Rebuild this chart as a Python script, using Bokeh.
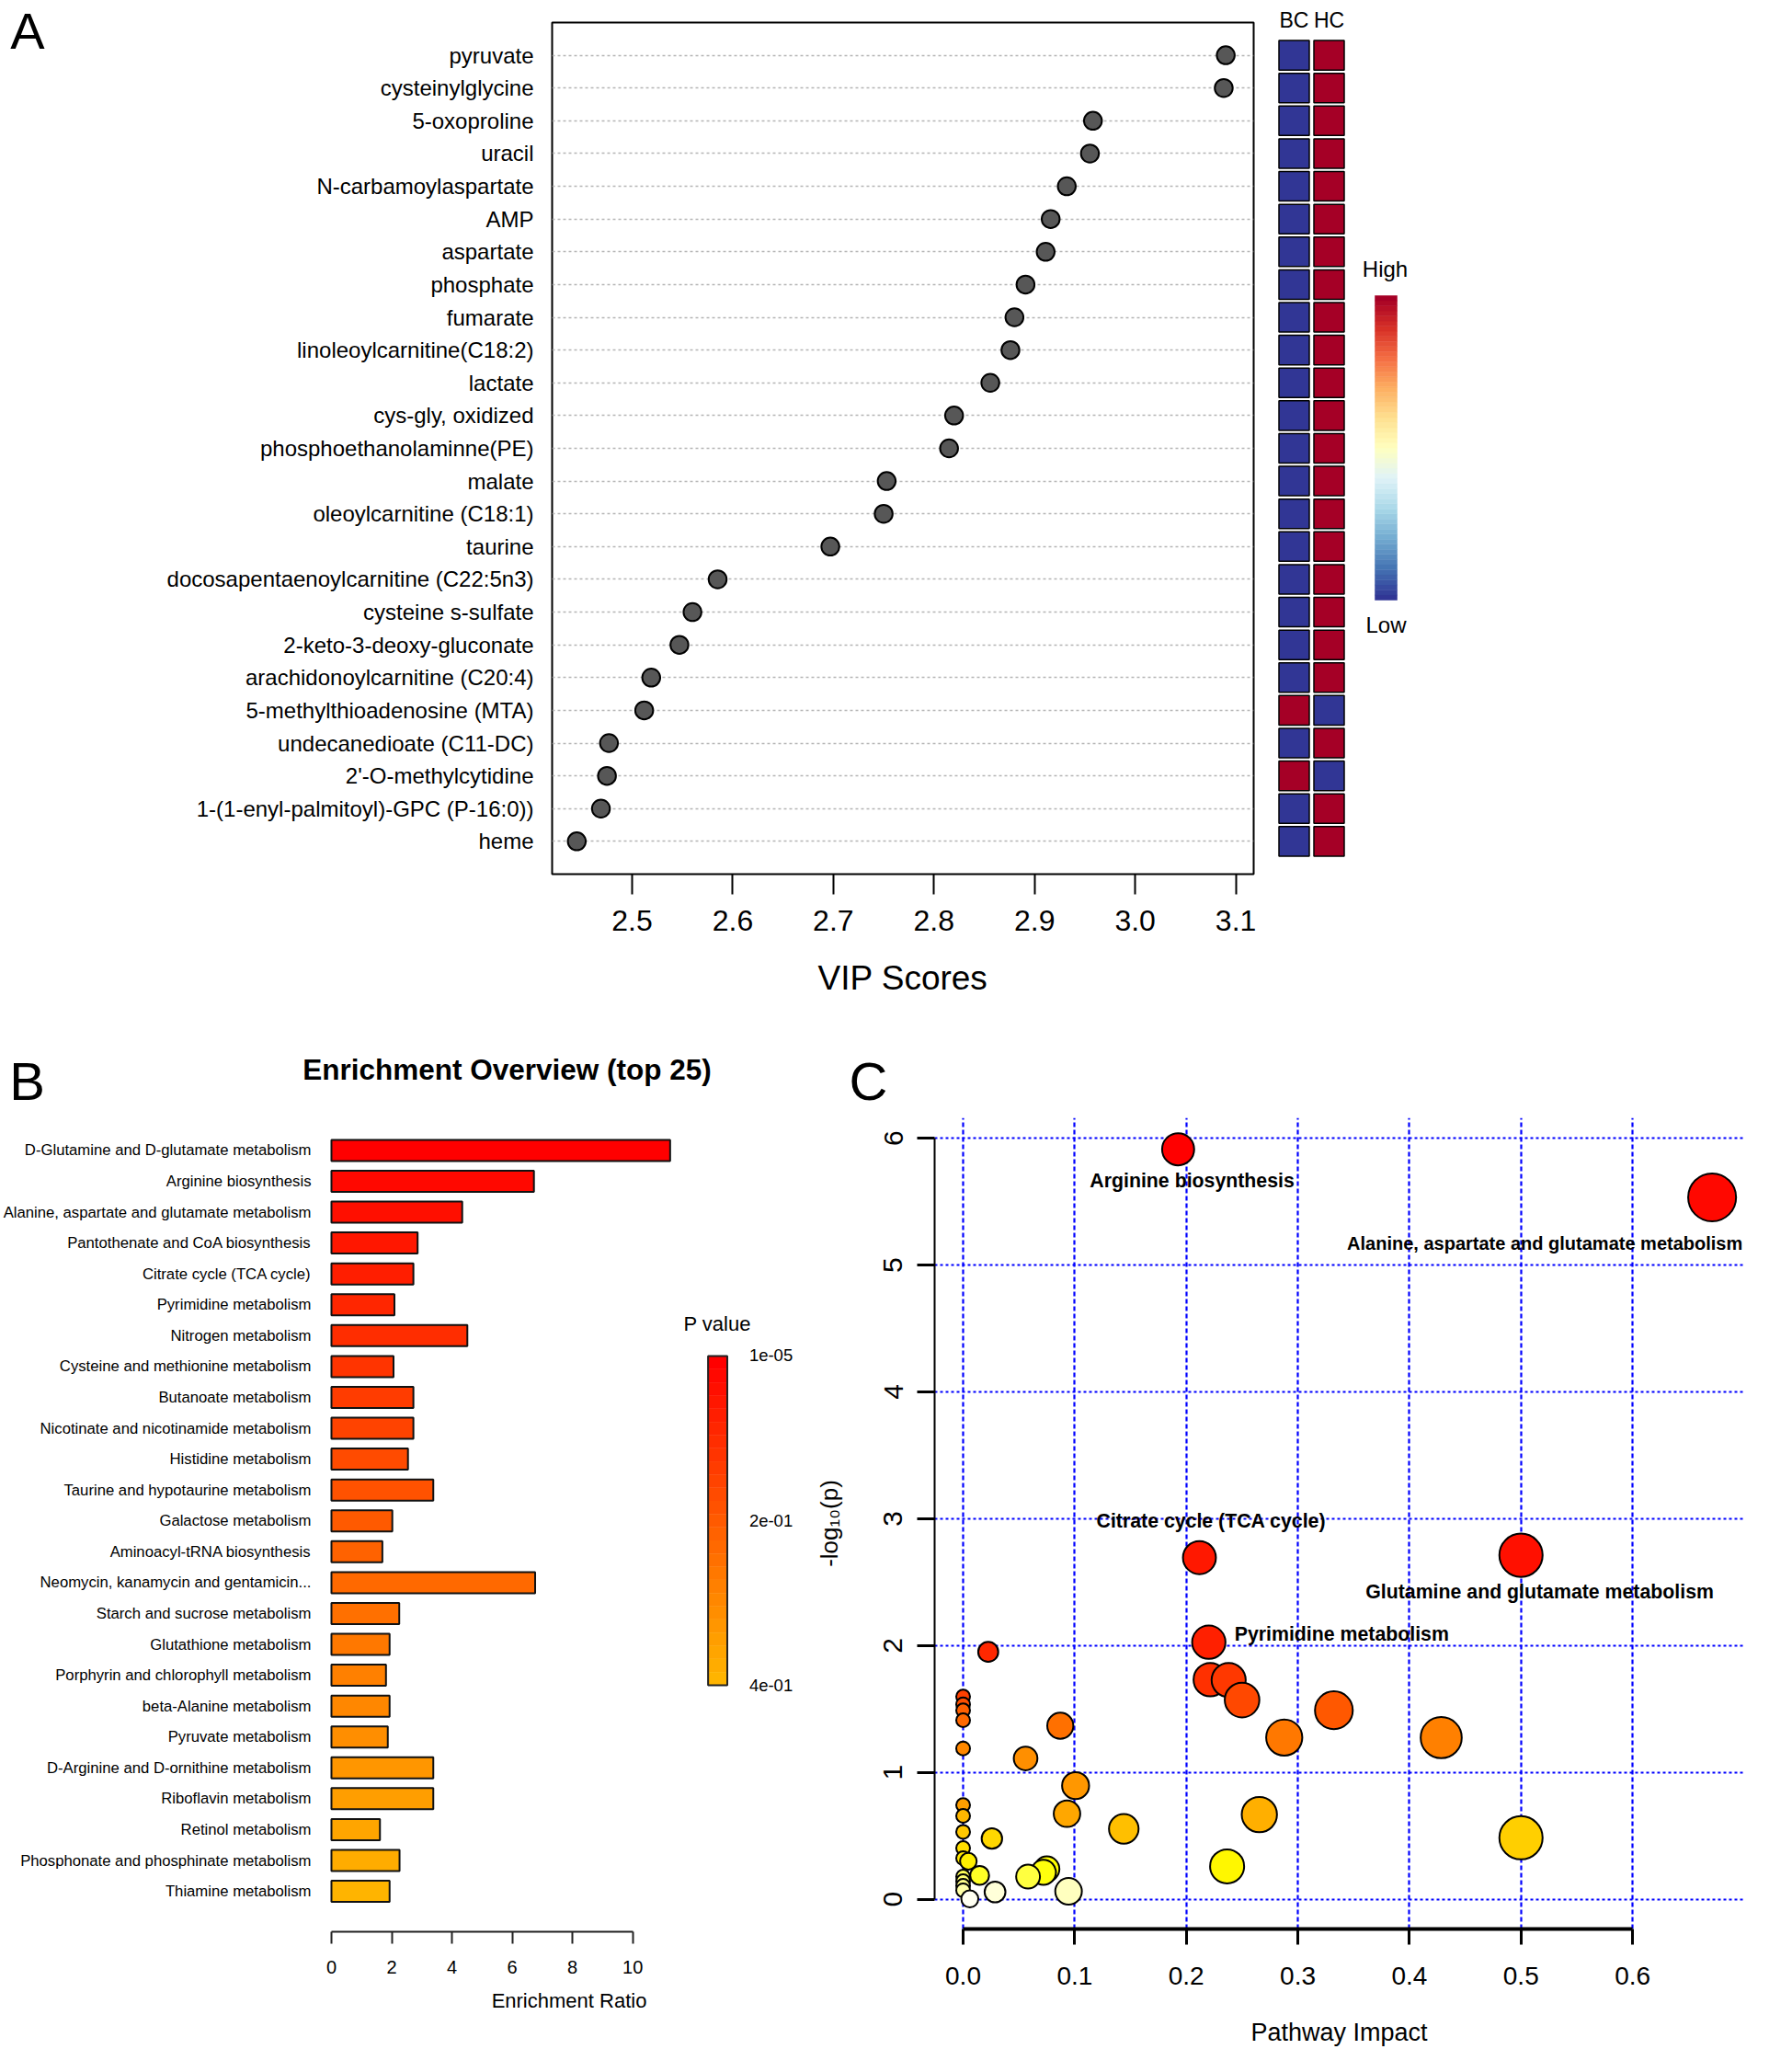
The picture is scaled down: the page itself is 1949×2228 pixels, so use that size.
import colorsys
import numpy as np
from bokeh.plotting import figure
from bokeh.layouts import column, row
from bokeh.models import Range1d, FixedTicker, Label, PrintfTickFormatter
from bokeh.embed import file_html
from bokeh.resources import INLINE

FONT = "Liberation Sans"

# ---------------- Panel A data ----------------
metabolites = [
    "pyruvate", "cysteinylglycine", "5-oxoproline", "uracil", "N-carbamoylaspartate",
    "AMP", "aspartate", "phosphate", "fumarate", "linoleoylcarnitine(C18:2)",
    "lactate", "cys-gly, oxidized", "phosphoethanolaminne(PE)", "malate",
    "oleoylcarnitine (C18:1)", "taurine", "docosapentaenoylcarnitine (C22:5n3)",
    "cysteine s-sulfate", "2-keto-3-deoxy-gluconate", "arachidonoylcarnitine (C20:4)",
    "5-methylthioadenosine (MTA)", "undecanedioate (C11-DC)", "2'-O-methylcytidine",
    "1-(1-enyl-palmitoyl)-GPC (P-16:0))", "heme",
]
vip_scores = [3.090, 3.088, 2.958, 2.955, 2.932, 2.916, 2.911, 2.891, 2.880, 2.876,
              2.856, 2.820, 2.815, 2.753, 2.750, 2.697, 2.585, 2.560, 2.547, 2.519,
              2.512, 2.477, 2.475, 2.469, 2.445]
groups = ["BC", "HC"]
bc_level = [0] * 20 + [1, 0, 1, 0, 0]   # 1 = high, 0 = low
hc_level = [1] * 20 + [0, 1, 0, 1, 1]
vip_ticks = [2.5, 2.6, 2.7, 2.8, 2.9, 3.0, 3.1]

# ---------------- Panel B data ----------------
pathways_b = [
    "D-Glutamine and D-glutamate metabolism", "Arginine biosynthesis",
    "Alanine, aspartate and glutamate metabolism", "Pantothenate and CoA biosynthesis",
    "Citrate cycle (TCA cycle)", "Pyrimidine metabolism", "Nitrogen metabolism",
    "Cysteine and methionine metabolism", "Butanoate metabolism",
    "Nicotinate and nicotinamide metabolism", "Histidine metabolism",
    "Taurine and hypotaurine metabolism", "Galactose metabolism",
    "Aminoacyl-tRNA biosynthesis", "Neomycin, kanamycin and gentamicin...",
    "Starch and sucrose metabolism", "Glutathione metabolism",
    "Porphyrin and chlorophyll metabolism", "beta-Alanine metabolism",
    "Pyruvate metabolism", "D-Arginine and D-ornithine metabolism",
    "Riboflavin metabolism", "Retinol metabolism",
    "Phosphonate and phosphinate metabolism", "Thiamine metabolism",
]
enrichment_ratio = [11.24, 6.72, 4.34, 2.86, 2.72, 2.09, 4.51, 2.06, 2.72, 2.72,
                    2.54, 3.38, 2.02, 1.69, 6.76, 2.25, 1.93, 1.81, 1.93, 1.87,
                    3.38, 3.38, 1.61, 2.26, 1.93]
ratio_ticks = [0, 2, 4, 6, 8, 10]
pvalue_labels = ["1e-05", "2e-01", "4e-01"]

# ---------------- Panel C data ----------------
impact = [0.1927, 0.6713, 0.5000, 0.2118, 0.2202, 0.0225, 0.2215, 0.2380, 0.0000, 0.2500,
          0.0000, 0.3323, 0.0000, 0.0000, 0.0871, 0.2878, 0.4285, 0.0000, 0.0560, 0.1008,
          0.0000, 0.0931, 0.2655, 0.0000, 0.1440, 0.0000, 0.5000, 0.0258, 0.0000, 0.0000,
          0.0047, 0.2366, 0.0750, 0.0720, 0.0148, 0.0582, 0.0000, 0.0000, 0.0000, 0.0000,
          0.0945, 0.0286, 0.0060]
neglogp = [5.913, 5.534, 2.712, 2.693, 2.026, 1.950, 1.731, 1.728, 1.597, 1.570,
           1.537, 1.490, 1.489, 1.411, 1.368, 1.275, 1.274, 1.189, 1.110, 0.895,
           0.742, 0.674, 0.667, 0.657, 0.555, 0.531, 0.484, 0.478, 0.403, 0.323,
           0.299, 0.259, 0.238, 0.212, 0.188, 0.178, 0.178, 0.142, 0.106, 0.070,
           0.062, 0.057, 0.002]
c_label_index = [0, 1, 3, 2, 4]
c_label_text = ["Arginine biosynthesis", "Alanine, aspartate and glutamate metabolism",
                "Citrate cycle (TCA cycle)", "Glutamine and glutamate metabolism",
                "Pyrimidine metabolism"]
c_label_dx = [-96, -397, -112, -169, 28]
c_label_dy = [-34, -50, 40, -40, 9]
c_label_size = ["21.3px", "20px", "21.3px", "21.3px", "21.3px"]
impact_ticks = [0.0, 0.1, 0.2, 0.3, 0.4, 0.5, 0.6]
logp_ticks = [0, 1, 2, 3, 4, 5, 6]


def hsv_hex(h, s, v):
    r, g, b = colorsys.hsv_to_rgb(h, s, v)
    return "#%02x%02x%02x" % (round(r * 255), round(g * 255), round(b * 255))


def heat_colors(n):
    j = n // 4
    i = n - j
    cols = [hsv_hex((k / (i - 1)) / 6.0, 1, 1) for k in range(i)]
    if j > 0:
        for s in np.linspace(1 - 1 / (2 * j), 1 / (2 * j), j):
            cols.append(hsv_hex(1 / 6.0, s, 1))
    return cols


def interp_palette(stops, n):
    rgb = np.array([[int(c[i:i + 2], 16) for i in (1, 3, 5)] for c in stops], float)
    t = np.linspace(0, 1, n)
    pos = np.linspace(0, 1, len(stops))
    out = []
    for tt in t:
        vals = [np.interp(tt, pos, rgb[:, k]) for k in range(3)]
        out.append("#%02x%02x%02x" % tuple(int(round(v)) for v in vals))
    return out


RDYLBU = ["#313695", "#4575b4", "#74add1", "#abd9e9", "#e0f3f8", "#ffffbf",
          "#fee090", "#fdae61", "#f46d43", "#d73027", "#a50026"]


def base_fig(**kw):
    p = figure(output_backend="svg", toolbar_location=None, **kw)
    p.frame_align = False
    return p


def blank_fig(width, height, x0, x1, y_bottom, y_top):
    p = base_fig(width=width, height=height, x_range=Range1d(x0, x1),
                 y_range=Range1d(y_bottom, y_top), min_border=0,
                 x_axis_location=None, y_axis_location=None)
    p.outline_line_color = None
    p.grid.visible = False
    return p


def letter(p, x, y, txt, size="58px"):
    p.add_layout(Label(x=x, y=y, text=txt, text_font=FONT, text_font_size=size,
                       text_align="center", text_baseline="middle", text_color="black"))


# ======================= Panel A letter strip =======================
pLetA = blank_fig(178, 1100, 0, 178, 1100, 0)
letter(pLetA, 29.5, 33, "A", "56px")

# ======================= Panel A (dot plot) =======================
A_X0_PX, A_X0_VAL, A_PPU = 687.0, 2.5, 1094.3
A_ROW0_PX, A_ROW_PX = 59.6, 35.615


def ax_(px):
    return A_X0_VAL + (px - A_X0_PX) / A_PPU


def ay_(py):
    return (py - A_ROW0_PX) / A_ROW_PX


idx_a = list(range(len(metabolites)))
pA = base_fig(width=1202, height=1100, x_range=Range1d(ax_(600), ax_(1363)),
              y_range=Range1d(ay_(950), ay_(24)), min_border_left=422,
              min_border_right=17, min_border_top=24, min_border_bottom=150)
pA.outline_line_color = "black"
pA.outline_line_width = 2
pA.xgrid.visible = False
pA.ygrid.grid_line_color = "#b5b5b5"
pA.ygrid.grid_line_dash = "3 3"
pA.ygrid.grid_line_width = 1.5

pA.yaxis.ticker = FixedTicker(ticks=idx_a)
pA.yaxis.major_label_overrides = {i: m for i, m in enumerate(metabolites)}
pA.yaxis.axis_line_color = None
pA.yaxis.major_tick_line_color = None
pA.yaxis.minor_tick_line_color = None
pA.yaxis.major_label_standoff = 14
pA.yaxis.major_label_text_font = FONT
pA.yaxis.major_label_text_font_size = "24px"
pA.yaxis.major_label_text_color = "black"

pA.xaxis.ticker = FixedTicker(ticks=vip_ticks)
pA.xaxis.formatter = PrintfTickFormatter(format="%.1f")
pA.xaxis.axis_line_color = None
pA.xaxis.major_tick_out = 22
pA.xaxis.major_tick_in = 0
pA.xaxis.major_tick_line_width = 2
pA.xaxis.major_tick_line_color = "black"
pA.xaxis.minor_tick_line_color = None
pA.xaxis.major_label_standoff = 17
pA.xaxis.major_label_text_font = FONT
pA.xaxis.major_label_text_font_size = "32px"
pA.xaxis.major_label_text_color = "black"
pA.xaxis.axis_label = "VIP Scores"
pA.xaxis.axis_label_text_font = FONT
pA.xaxis.axis_label_text_font_size = "37px"
pA.xaxis.axis_label_text_font_style = "normal"
pA.xaxis.axis_label_text_color = "black"
pA.xaxis.axis_label_standoff = 28

pA.scatter(x=vip_scores, y=idx_a, size=19.5, fill_color="#575757",
           line_color="black", line_width=2)

# ======================= Panel A (heat columns) =======================
H_X0_PX, H_SLOT = 1388.0, 38.0


def hx_(px):
    return (px - H_X0_PX) / H_SLOT


pH = base_fig(width=569, height=1100, x_range=Range1d(0, hx_(1949)),
              y_range=Range1d(ay_(950), ay_(0)), min_border_left=8,
              min_border_right=0, min_border_top=0, min_border_bottom=150,
              x_axis_location=None, y_axis_location=None)
pH.outline_line_color = None
pH.grid.visible = False
level_color = {0: "#313695", 1: "#a50026"}
for gi, levels in enumerate([bc_level, hc_level]):
    pH.rect(x=[gi + 0.5] * len(levels), y=idx_a, width=33 / H_SLOT, height=0.9,
            fill_color=[level_color[v] for v in levels], line_color="black",
            line_width=1.5)
for gi, g in enumerate(groups):
    pH.add_layout(Label(x=gi + 0.5, y=ay_(21), text=g, text_font=FONT,
                        text_font_size="23px", text_align="center",
                        text_baseline="alphabetic", text_color="black"))
# colour key
n_steps = 60
grad = interp_palette(RDYLBU, n_steps)
edges = np.linspace(ay_(652), ay_(321), n_steps + 1)
pH.quad(left=hx_(1495), right=hx_(1519), bottom=edges[:-1], top=edges[1:],
        fill_color=grad, line_color=grad, line_width=0.5)
pH.add_layout(Label(x=hx_(1506), y=ay_(292), text="High", text_font=FONT,
                    text_font_size="24px", text_align="center",
                    text_baseline="middle", text_color="black"))
pH.add_layout(Label(x=hx_(1507), y=ay_(679), text="Low", text_font=FONT,
                    text_font_size="24px", text_align="center",
                    text_baseline="middle", text_color="black"))

# ======================= Panel B header =======================
pBhead = blank_fig(880, 115, 0, 880, 1215, 1100)
letter(pBhead, 29, 1175, "B")
pBhead.add_layout(Label(x=551, y=1162, text="Enrichment Overview (top 25)",
                        text_font=FONT, text_font_size="31.5px", text_font_style="bold",
                        text_align="center", text_baseline="middle", text_color="black"))

# ======================= Panel B =======================
B_X0_PX, B_PPU = 357.0, 32.96
B_ROW0_PX, B_ROW_PX = 1250.4, 33.57


def bx_(px):
    return (px - B_X0_PX) / B_PPU


def by_(py):
    return (py - B_ROW0_PX) / B_ROW_PX


idx_b = list(range(len(pathways_b)))
bar_cols = heat_colors(46)[:len(pathways_b)]
pB = base_fig(width=880, height=1010, x_range=Range1d(bx_(354), bx_(880)),
              y_range=Range1d(by_(2100), by_(1215)), min_border_left=354,
              min_border_right=0, min_border_top=0, min_border_bottom=125)
pB.outline_line_color = None
pB.grid.visible = False
pB.hbar(y=idx_b, left=0, right=enrichment_ratio, height=0.685,
        fill_color=bar_cols, line_color="#111111", line_width=2)

pB.yaxis.ticker = FixedTicker(ticks=idx_b)
pB.yaxis.major_label_overrides = {i: n for i, n in enumerate(pathways_b)}
pB.yaxis.axis_line_color = None
pB.yaxis.major_tick_line_color = None
pB.yaxis.minor_tick_line_color = None
pB.yaxis.major_label_standoff = 13
pB.yaxis.major_label_text_font = FONT
pB.yaxis.major_label_text_font_size = "16.7px"
pB.yaxis.major_label_text_color = "black"

pB.xaxis.ticker = FixedTicker(ticks=ratio_ticks)
pB.xaxis.bounds = (0, 10)
pB.xaxis.axis_line_width = 2
pB.xaxis.axis_line_color = "#222222"
pB.xaxis.major_tick_out = 13
pB.xaxis.major_tick_in = 0
pB.xaxis.major_tick_line_width = 2
pB.xaxis.major_tick_line_color = "#222222"
pB.xaxis.minor_tick_line_color = None
pB.xaxis.major_label_standoff = 18
pB.xaxis.major_label_text_font = FONT
pB.xaxis.major_label_text_font_size = "20px"
pB.xaxis.major_label_text_color = "black"
pB.xaxis.axis_label = "Enrichment Ratio"
pB.xaxis.axis_label_text_font = FONT
pB.xaxis.axis_label_text_font_size = "22px"
pB.xaxis.axis_label_text_font_style = "normal"
pB.xaxis.axis_label_text_color = "black"
pB.xaxis.axis_label_standoff = 14

# P value colour key
cb_edges = np.linspace(by_(1474), by_(1832), len(bar_cols) + 1)
pB.quad(left=bx_(769), right=bx_(790), top=cb_edges[:-1], bottom=cb_edges[1:],
        fill_color=bar_cols, line_color=bar_cols, line_width=0.5)
pB.quad(left=bx_(769), right=bx_(790), top=by_(1474), bottom=by_(1832),
        fill_color=None, line_color="#222222", line_width=2)
pB.add_layout(Label(x=bx_(779), y=by_(1439), text="P value", text_font=FONT,
                    text_font_size="22px", text_align="center",
                    text_baseline="middle", text_color="black"))
for lab, py in zip(pvalue_labels, [1473, 1653, 1832]):
    pB.add_layout(Label(x=bx_(814), y=by_(py), text=lab, text_font=FONT,
                        text_font_size="18.5px", text_align="left",
                        text_baseline="middle", text_color="black"))

# ======================= Panel C header =======================
pChead = blank_fig(1069, 115, 880, 1949, 1215, 1100)
letter(pChead, 944, 1175, "C")

# ======================= Panel C =======================
C_X0_PX, C_XPPU = 1047.0, 1213.5
C_Y0_PX, C_YPPU = 2064.6, 137.9


def cx_(px):
    return (px - C_X0_PX) / C_XPPU


def cy_(py):
    return (C_Y0_PX - py) / C_YPPU


pC = base_fig(width=1069, height=1012, x_range=Range1d(cx_(1016), cx_(1896)),
              y_range=Range1d(cy_(2097), cy_(1215)), min_border_left=136,
              min_border_right=53, min_border_top=0, min_border_bottom=130)
pC.outline_line_color = None
pC.xaxis.ticker = FixedTicker(ticks=impact_ticks)
pC.yaxis.ticker = FixedTicker(ticks=logp_ticks)
pC.xaxis.formatter = PrintfTickFormatter(format="%.1f")

# dotted blue grid
pC.ygrid.grid_line_color = "#0000ff"
pC.ygrid.grid_line_width = 2.2
pC.ygrid.grid_line_dash = "3 3"
pC.xgrid.grid_line_color = "#0000ff"
pC.xgrid.grid_line_width = 2.2
pC.xgrid.grid_line_dash = "5 3"

pC.xaxis.bounds = (0, 0.6)
pC.xaxis.axis_line_width = 4
pC.xaxis.axis_line_color = "black"
pC.xaxis.major_tick_out = 17
pC.xaxis.major_tick_in = 0
pC.xaxis.major_tick_line_width = 3
pC.xaxis.major_tick_line_color = "black"
pC.xaxis.minor_tick_line_color = None
pC.xaxis.major_label_standoff = 24
pC.xaxis.major_label_text_font = FONT
pC.xaxis.major_label_text_font_size = "28px"
pC.xaxis.major_label_text_color = "black"
pC.xaxis.axis_label = "Pathway Impact"
pC.xaxis.axis_label_text_font = FONT
pC.xaxis.axis_label_text_font_size = "27px"
pC.xaxis.axis_label_text_font_style = "normal"
pC.xaxis.axis_label_text_color = "black"
pC.xaxis.axis_label_standoff = 34

pC.yaxis.bounds = (0, 6)
pC.yaxis.axis_line_width = 2
pC.yaxis.axis_line_color = "black"
pC.yaxis.major_tick_out = 19
pC.yaxis.major_tick_in = 0
pC.yaxis.major_tick_line_width = 3
pC.yaxis.major_tick_line_color = "black"
pC.yaxis.minor_tick_line_color = None
pC.yaxis.major_label_orientation = "vertical"
pC.yaxis.major_label_standoff = 16
pC.yaxis.major_label_text_font = FONT
pC.yaxis.major_label_text_font_size = "30px"
pC.yaxis.major_label_text_color = "black"
pC.yaxis.axis_label = "-log\u2081\u2080(p)"
pC.yaxis.axis_label_text_font = FONT
pC.yaxis.axis_label_text_font_size = "26px"
pC.yaxis.axis_label_text_font_style = "normal"
pC.yaxis.axis_label_text_color = "black"
pC.yaxis.axis_label_standoff = 42

bubble_cols = heat_colors(len(impact))
bubble_size = [15 + 45.3 * np.sqrt(v) for v in impact]
pC.scatter(x=impact, y=neglogp, size=bubble_size, fill_color=bubble_cols,
           line_color="black", line_width=2)
for k, i in enumerate(c_label_index):
    pC.add_layout(Label(x=impact[i], y=neglogp[i], x_offset=c_label_dx[k],
                        y_offset=c_label_dy[k], text=c_label_text[k], text_font=FONT,
                        text_font_size=c_label_size[k], text_font_style="bold",
                        text_align="left", text_baseline="middle", text_color="black"))

layout = column(row(pLetA, pA, pH), row(column(pBhead, pB), column(pChead, pC)))
open("out.html", "w").write(file_html(layout, INLINE))
